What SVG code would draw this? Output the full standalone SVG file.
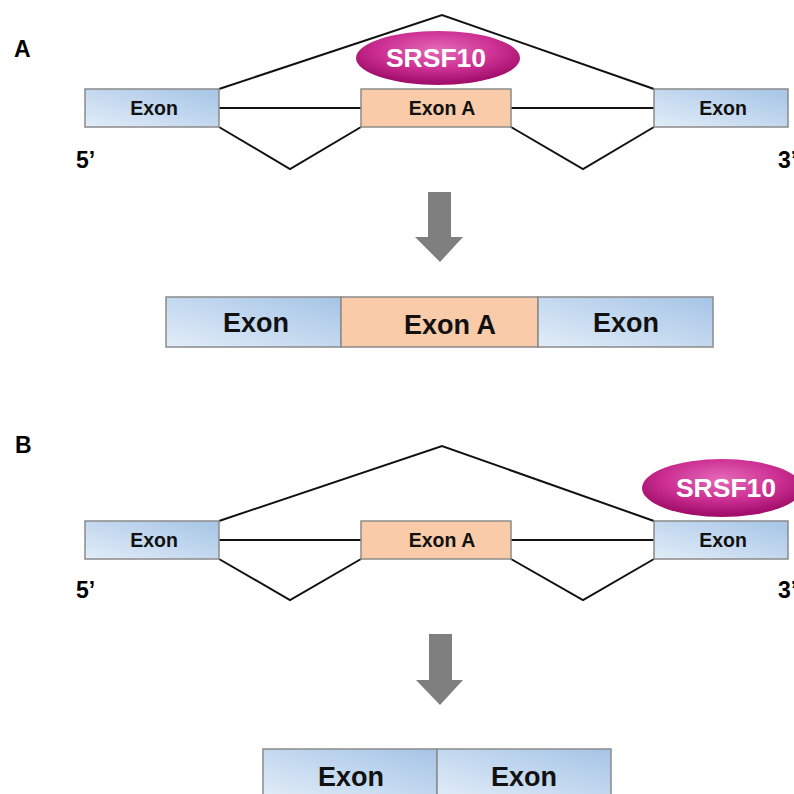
<svg xmlns="http://www.w3.org/2000/svg" width="794" height="794" viewBox="0 0 794 794">
<style>
text{font-family:"Liberation Sans",Arial,sans-serif;font-weight:bold;fill:#111}
.lbl{font-size:23px;fill:#000}
.ex{font-size:19.5px;text-anchor:middle}
.exr{font-size:27px;text-anchor:middle}
.sr{font-size:26.5px;fill:#fff;text-anchor:middle}
.blue{fill:url(#gBlue);stroke:#8a8a8a;stroke-width:1.5}
.peach{fill:#f9cba9;stroke:#8a8a8a;stroke-width:1.5}
.ell{fill:url(#gMag)}
.con{fill:none;stroke:#111;stroke-width:2}
.arr{fill:#7f7f7f}
</style>
<defs>
<linearGradient id="gBlue" x1="0" y1="1" x2="1" y2="0">
<stop offset="0" stop-color="#e2edf8"/>
<stop offset="1" stop-color="#a5c4e6"/>
</linearGradient>
<radialGradient id="gMag" cx="0.5" cy="0.35" r="0.6">
<stop offset="0" stop-color="#e46ab8"/>
<stop offset="0.6" stop-color="#cc2f92"/>
<stop offset="1" stop-color="#a3106c"/>
</radialGradient>
</defs>
<rect width="794" height="794" fill="#fff"/>

<!-- Panel A -->
<text class="lbl" x="14" y="57">A</text>
<text class="lbl" x="76" y="168">5’</text>
<text class="lbl" x="778" y="168">3’</text>

<g id="connectorsA">
<polyline class="con" points="219,89 442,15 654,89"/>
<line class="con" x1="219" y1="108" x2="361" y2="108"/>
<line class="con" x1="511" y1="108" x2="654" y2="108"/>
<polyline class="con" points="219,127 290,169 361,127"/>
<polyline class="con" points="511,127 583,169 654,127"/>
</g>

<g id="a-exon-left"><rect class="blue" x="85" y="89" width="134" height="38"/><text class="ex" x="154" y="115">Exon</text></g>
<g id="a-exon-A"><rect class="peach" x="361" y="89" width="150" height="38"/><text class="ex" x="442" y="115">Exon A</text></g>
<g id="a-exon-right"><rect class="blue" x="654" y="89" width="134" height="38"/><text class="ex" x="723" y="115">Exon</text></g>
<g id="a-srsf10"><ellipse class="ell" cx="438" cy="58" rx="82" ry="27"/><text class="sr" x="436" y="67">SRSF10</text></g>

<g id="a-arrow"><polygon class="arr" points="428,192 451,192 451,237 463,237 440,262 415,237 428,237"/></g>

<g id="a-result">
<rect class="blue" x="166" y="297" width="175" height="50"/>
<rect class="peach" x="341" y="297" width="197" height="50"/>
<rect class="blue" x="538" y="297" width="175" height="50"/>
<text class="exr" x="256" y="332">Exon</text>
<text class="exr" x="450" y="334">Exon A</text>
<text class="exr" x="626" y="332">Exon</text>
</g>

<!-- Panel B -->
<text class="lbl" x="15" y="453">B</text>
<text class="lbl" x="76" y="598">5’</text>
<text class="lbl" x="778" y="598">3’</text>

<g id="connectorsB">
<polyline class="con" points="219,521 442,446 654,521"/>
<line class="con" x1="219" y1="540" x2="361" y2="540"/>
<line class="con" x1="511" y1="540" x2="654" y2="540"/>
<polyline class="con" points="219,559 290,600 361,559"/>
<polyline class="con" points="511,559 583,600 654,559"/>
</g>

<g id="b-exon-left"><rect class="blue" x="85" y="521" width="134" height="38"/><text class="ex" x="154" y="547">Exon</text></g>
<g id="b-exon-A"><rect class="peach" x="361" y="521" width="150" height="38"/><text class="ex" x="442" y="547">Exon A</text></g>
<g id="b-exon-right"><rect class="blue" x="654" y="521" width="134" height="38"/><text class="ex" x="723" y="547">Exon</text></g>
<g id="b-srsf10"><ellipse class="ell" cx="722" cy="488" rx="80" ry="29"/><text class="sr" x="726" y="497">SRSF10</text></g>

<g id="b-arrow"><polygon class="arr" points="429,634 452,634 452,680 463,680 440,705 416,680 429,680"/></g>

<g id="b-result">
<rect class="blue" x="263" y="749" width="174" height="50"/>
<rect class="blue" x="437" y="749" width="174" height="50"/>
<text class="exr" x="351" y="786">Exon</text>
<text class="exr" x="524" y="786">Exon</text>
</g>
</svg>
